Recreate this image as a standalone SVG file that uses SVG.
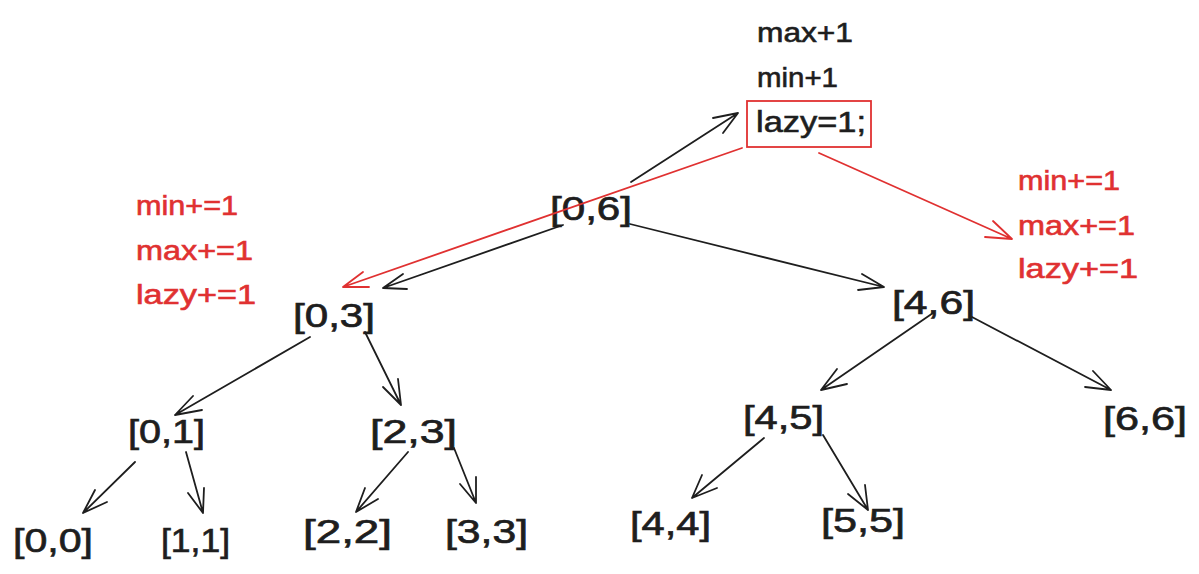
<svg xmlns="http://www.w3.org/2000/svg" width="1199" height="574" viewBox="0 0 1199 574">
<style>
text{font-family:"Liberation Sans","Noto Sans",sans-serif;}
.n{font-size:33px;fill:#1e1e1e;stroke:#1e1e1e;stroke-width:0.7;}
.t{font-size:27px;fill:#1e1e1e;stroke:#1e1e1e;stroke-width:0.6;}
.r{font-size:27px;fill:#e03131;stroke:#e03131;stroke-width:0.6;}
.c{fill:none;stroke:#1e1e1e;stroke-width:1.8;stroke-linecap:round;stroke-linejoin:round;}
.cr{fill:none;stroke:#e03131;stroke-width:1.8;stroke-linecap:round;stroke-linejoin:round;}
</style>
<rect width="1199" height="574" fill="#ffffff"/>
<g id="note-top">
<text class="t" x="757" y="42" textLength="96" lengthAdjust="spacingAndGlyphs">max+1</text>
<text class="t" x="757" y="87" textLength="81" lengthAdjust="spacingAndGlyphs">min+1</text>
<text class="t" x="756" y="132" textLength="110" lengthAdjust="spacingAndGlyphs" style="font-size:30px">lazy=1;</text>
<rect x="747" y="101" width="124" height="46" fill="none" stroke="#e03131" stroke-width="1.8"/>
</g>
<g id="note-left">
<text class="r" x="136" y="215" textLength="102" lengthAdjust="spacingAndGlyphs">min+=1</text>
<text class="r" x="136" y="260" textLength="117" lengthAdjust="spacingAndGlyphs">max+=1</text>
<text class="r" x="136" y="304" textLength="120" lengthAdjust="spacingAndGlyphs">lazy+=1</text>
</g>
<g id="note-right">
<text class="r" x="1018" y="190" textLength="102" lengthAdjust="spacingAndGlyphs">min+=1</text>
<text class="r" x="1018" y="235" textLength="117" lengthAdjust="spacingAndGlyphs">max+=1</text>
<text class="r" x="1018" y="278" textLength="120" lengthAdjust="spacingAndGlyphs">lazy+=1</text>
</g>
<g id="n06"><text class="n" x="550" y="220" textLength="82" lengthAdjust="spacingAndGlyphs">[0,6]</text></g>
<g id="n03"><text class="n" x="293" y="327" textLength="82" lengthAdjust="spacingAndGlyphs">[0,3]</text></g>
<g id="n46"><text class="n" x="892" y="314" textLength="83" lengthAdjust="spacingAndGlyphs">[4,6]</text></g>
<g id="n01"><text class="n" x="128" y="443" textLength="77" lengthAdjust="spacingAndGlyphs">[0,1]</text></g>
<g id="n23"><text class="n" x="370" y="443" textLength="87" lengthAdjust="spacingAndGlyphs">[2,3]</text></g>
<g id="n45"><text class="n" x="743" y="429" textLength="81" lengthAdjust="spacingAndGlyphs">[4,5]</text></g>
<g id="n66"><text class="n" x="1103" y="430" textLength="84" lengthAdjust="spacingAndGlyphs">[6,6]</text></g>
<g id="n00"><text class="n" x="13" y="552" textLength="80" lengthAdjust="spacingAndGlyphs">[0,0]</text></g>
<g id="n11"><text class="n" x="161" y="552" textLength="69" lengthAdjust="spacingAndGlyphs">[1,1]</text></g>
<g id="n22"><text class="n" x="303" y="543" textLength="89" lengthAdjust="spacingAndGlyphs">[2,2]</text></g>
<g id="n33"><text class="n" x="445" y="543" textLength="83" lengthAdjust="spacingAndGlyphs">[3,3]</text></g>
<g id="n44"><text class="n" x="630" y="535" textLength="81" lengthAdjust="spacingAndGlyphs">[4,4]</text></g>
<g id="n55"><text class="n" x="821" y="532" textLength="84" lengthAdjust="spacingAndGlyphs">[5,5]</text></g>
<g id="connectors">
<path class="c" d="M631,182 L738,113 M713,118 L738,113 L723,133"/>
<path class="c" d="M563,225 L383,288 M407,289 L383,288 L403,274"/>
<path class="cr" d="M742,148 L343,287 M369,287 L343,287 L363,272"/>
<path class="cr" d="M819,153 L1012,239 M985,237 L1012,239 L993,221"/>
<path class="c" d="M630,224 L884,287 M858,290 L884,287 L862,274"/>
<path class="c" d="M310,337 L175,415 M193,396 L175,415 L202,410"/>
<path class="c" d="M365,332 L401,405 M383,387 L401,405 L398,379"/>
<path class="c" d="M135,462 L83,513 M95,490 L83,513 L107,502"/>
<path class="c" d="M186,452 L203,513 M188,493 L203,513 L204,488"/>
<path class="c" d="M408,452 L356,512 M365,488 L356,512 L378,499"/>
<path class="c" d="M454,448 L476,503 M460,484 L476,503 L476,477"/>
<path class="c" d="M933,313 L821,390 M837,369 L821,390 L847,384"/>
<path class="c" d="M972,317 L1111,390 M1093,371 L1111,390 L1085,387"/>
<path class="c" d="M764,438 L692,498 M702,475 L692,498 L717,488"/>
<path class="c" d="M823,435 L868,510 M865,485 L868,510 L848,494"/>
</g>
</svg>
